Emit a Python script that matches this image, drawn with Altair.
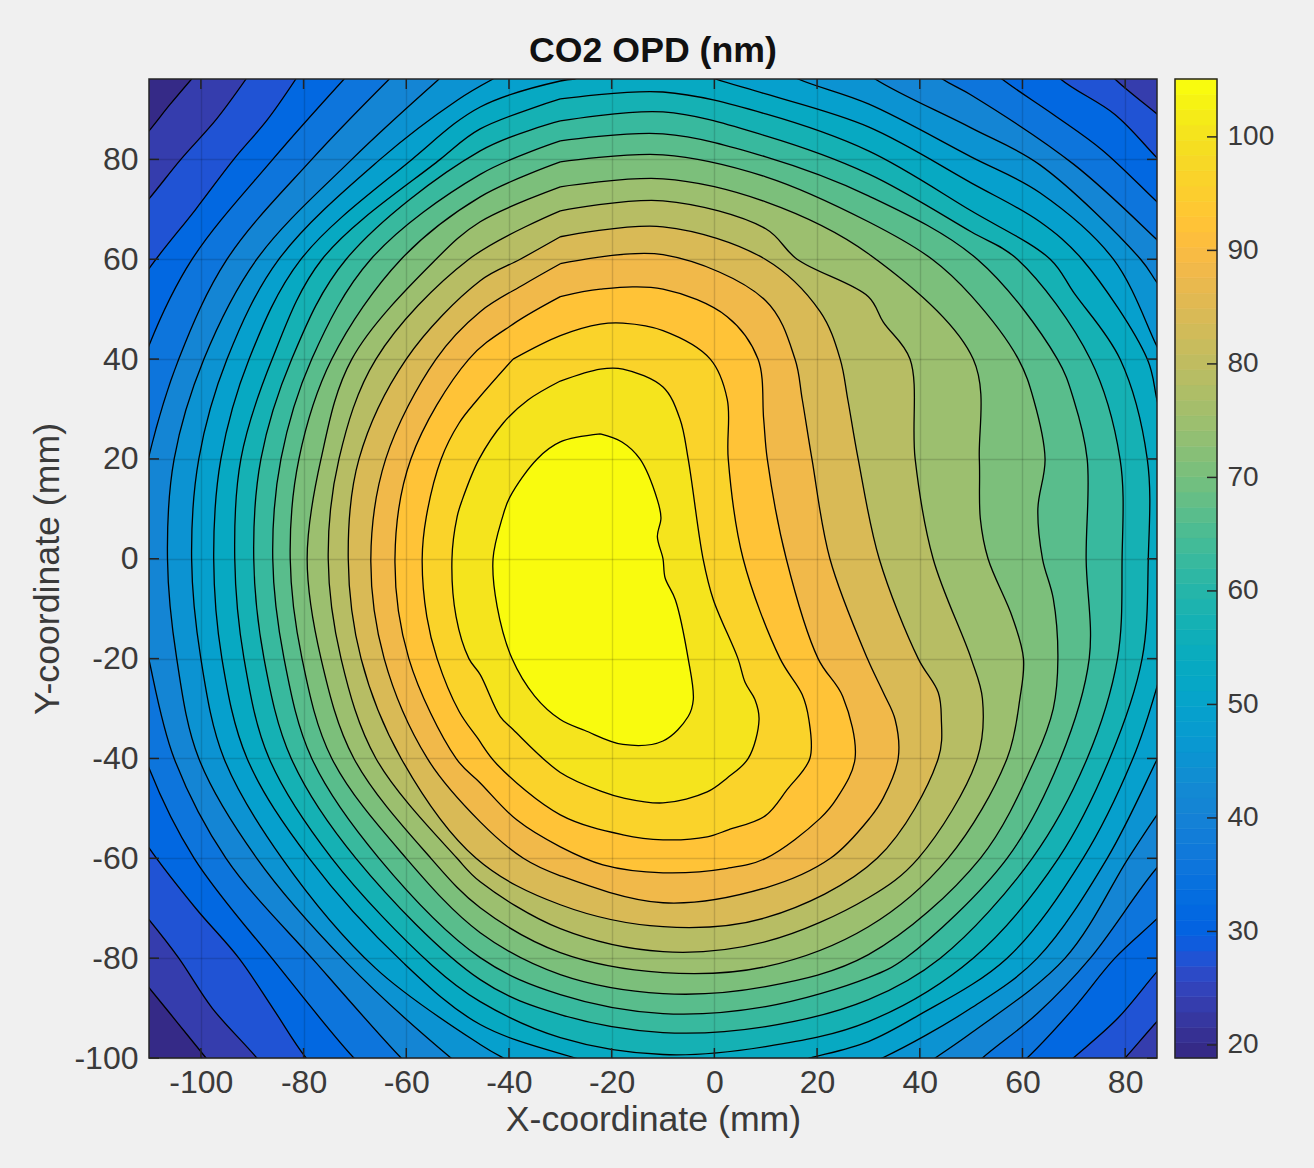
import altair as alt
import pandas as pd

TITLE = "CO2 OPD (nm)"
X_TICKS = [-100, -80, -60, -40, -20, 0, 20, 40, 60, 80]
Y_TICKS = [-100, -80, -60, -40, -20, 0, 20, 40, 60, 80]
CB_TICKS = [20, 30, 40, 50, 60, 70, 80, 90, 100]
X_DOM = [-110.1, 86.2]
Y_DOM = [-100, 96.1]
C_DOM = [18.85, 105.1]

LEVELS = [18.85, 23.17, 27.48, 31.80, 36.10, 40.42, 44.73, 49.04, 53.35, 57.67, 61.98,
          66.29, 70.60, 74.92, 79.23, 83.54, 87.85, 92.17, 96.48, 100.79, 105.1]

PARULA = [
 (0.2081,0.1663,0.5292),(0.2116,0.1898,0.5777),(0.2123,0.2138,0.6270),(0.2081,0.2386,0.6771),
 (0.1959,0.2645,0.7279),(0.1707,0.2919,0.7792),(0.1253,0.3242,0.8303),(0.0591,0.3598,0.8683),
 (0.0117,0.3875,0.8820),(0.0060,0.4086,0.8828),(0.0165,0.4266,0.8786),(0.0329,0.4430,0.8720),
 (0.0498,0.4586,0.8641),(0.0629,0.4737,0.8554),(0.0723,0.4887,0.8467),(0.0779,0.5040,0.8384),
 (0.0793,0.5200,0.8312),(0.0749,0.5375,0.8263),(0.0641,0.5570,0.8240),(0.0488,0.5772,0.8228),
 (0.0343,0.5966,0.8199),(0.0265,0.6137,0.8135),(0.0239,0.6287,0.8038),(0.0231,0.6418,0.7913),
 (0.0228,0.6535,0.7768),(0.0267,0.6642,0.7607),(0.0384,0.6743,0.7436),(0.0590,0.6838,0.7254),
 (0.0843,0.6928,0.7062),(0.1133,0.7015,0.6859),(0.1453,0.7098,0.6646),(0.1801,0.7177,0.6424),
 (0.2178,0.7250,0.6193),(0.2586,0.7317,0.5954),(0.3022,0.7376,0.5712),(0.3482,0.7424,0.5473),
 (0.3953,0.7459,0.5244),(0.4420,0.7481,0.5033),(0.4871,0.7491,0.4840),(0.5300,0.7491,0.4661),
 (0.5709,0.7485,0.4494),(0.6099,0.7473,0.4337),(0.6473,0.7456,0.4188),(0.6834,0.7435,0.4044),
 (0.7184,0.7411,0.3905),(0.7525,0.7384,0.3768),(0.7858,0.7356,0.3633),(0.8185,0.7327,0.3498),
 (0.8507,0.7299,0.3360),(0.8824,0.7274,0.3217),(0.9139,0.7258,0.3063),(0.9450,0.7261,0.2886),
 (0.9739,0.7314,0.2666),(0.9938,0.7455,0.2403),(0.9990,0.7653,0.2164),(0.9955,0.7861,0.1967),
 (0.9880,0.8066,0.1794),(0.9789,0.8271,0.1633),(0.9697,0.8481,0.1475),(0.9626,0.8705,0.1309),
 (0.9589,0.8949,0.1132),(0.9598,0.9218,0.0948),(0.9661,0.9514,0.0755),(0.9763,0.9831,0.0538)]
PALETTE = ["#%02x%02x%02x" % tuple(round(c * 255) for c in p) for p in PARULA]

L01 = [(-101.8,96.1),(-94,106),(120,120),(120,-120),(-92,-109),(-99,-100),(-104.5,-93),(-110.1,-85.9),(-118,-76),(-118,76),(-110.1,85.7),(-106,91)]
L02 = [(-91.2,96.1),(-85,105),(70,105),(78,96.1),(86.2,89.1),(94,82),(94,-84),(86.2,-92.7),(80,-100),(73,-108),(-83,-108),(-89.1,-100),(-97.8,-90),(-104.3,-80),(-110.1,-72.3),(-117,-64),(-117,64),(-110.1,72.1),(-103.9,80),(-97,88)]
L03 = [(-81.5,96.1),(-76,104),(60,104),(67.4,96.1),(78,89),(86.2,80.3),(93,73),(93,-75),(86.2,-82.7),(78.6,-92),(69.9,-100),(62,-107),(-73,-107),(-79.5,-100),(-86,-90),(-92.6,-80),(-101,-70),(-110.1,-57.9),(-115,-50),(-115,50),(-110.1,58.1),(-101,70),(-93.6,80),(-87,88)]
L04 = [(-72.1,96.1),(-66,103),(48,103),(56,96.1),(66,89),(75.5,81.9),(86.2,71.5),(93,65),(93,-65),(86.2,-72.1),(78,-80),(70,-90),(60.9,-100),(54,-106),(-64,-106),(-70.2,-100),(-85,-81.5),(-101.3,-60),(-110.1,-41.9),(-113,-32),(-113,33),(-110.1,42.7),(-101.7,60),(-86,80)]
L05 = [(-63.3,96.1),(-57,102),(37,102),(44.4,96.1),(50,92.9),(70,79),(86.2,63.9),(93,57),(93,-55),(86.2,-61.9),(73.2,-80),(63,-91),(52.2,-100),(46,-106),(-55,-106),(-61,-100),(-77.5,-81),(-95.1,-60),(-105.2,-40),(-110.1,-20.2),(-112,-10),(-112,10),(-110.1,20.6),(-104.3,40),(-94.9,60),(-78.4,80)]
L06 = [(-53.6,96.1),(-47,102),(24,102),(31.3,96.1),(50,86.3),(63.4,78.9),(83,60),(86.2,55.3),(92,47),(92,-43),(86.2,-51.3),(80.6,-60),(68.3,-80),(50,-95),(43,-100),(36,-105),(-45,-105),(-51.3,-100),(-71.5,-81),(-89.1,-60),(-100.4,-40),(-104.7,-20),(-106.5,0),(-105.2,20),(-99.4,40),(-89.1,60),(-70.6,80)]
L07 = [(-43.1,96.1),(-37,100),(9,100),(16.3,96.1),(30,91.1),(50,80.5),(63.4,73.3),(77.7,60),(86.2,42.5),(90,34),(90,-32),(86.2,-40.2),(76.5,-60),(62.9,-80),(50,-90),(32.7,-100),(25,-103),(-35,-103),(-41.1,-100),(-45.6,-97.3),(-66,-82),(-84.2,-60),(-95.5,-40),(-100,-20),(-101.8,0),(-100.4,20),(-94.9,40),(-84.8,60),(-65.1,80),(-50,91.9)]
L08 = [(-27.1,96.1),(-20,99),(-7,99),(0.2,96.1),(10,93.1),(30,86.5),(50,75.3),(63.4,67.5),(71.6,60),(84.3,40),(86.2,31.8),(88,24),(88,-18),(86.2,-25.6),(81.5,-40),(71.8,-60),(57,-80),(39.5,-91.6),(30,-96.7),(18.7,-100),(11,-102),(-20,-102),(-27.1,-100),(-45.6,-93.3),(-60.5,-81),(-78.9,-60),(-91,-40),(-95.9,-20),(-97.5,0),(-96.1,20),(-90.6,40),(-80.5,60),(-58.9,80),(-45.6,90.5),(-30,95.7)]
L09 = [(-30,92.1),(-10,93.5),(10,89.1),(30,81.7),(50,69.7),(65.4,60),(70,53.3),(79,40),(84.3,20),(84.5,0),(83.3,-20),(77,-40),(67,-60),(50.4,-80),(30,-92.7),(10,-97.7),(-10,-99.3),(-30,-95.9),(-45.6,-88.7),(-55,-81.4),(-74.5,-60),(-86.7,-40),(-91.6,-20),(-93.4,0),(-92.2,20),(-86.1,40),(-76.4,60),(-53.4,80),(-45.6,86.1)]
L10 = [(-30,87.7),(-10,89.5),(10,84.7),(30,77.1),(50,65.5),(59,60),(73.2,40),(79,20),(79.4,0),(78.5,-20),(72.6,-40),(61.9,-60),(44,-80),(30,-88.3),(10,-93.7),(-10,-94.9),(-30,-91.3),(-45.6,-84.3),(-69.8,-60),(-82.4,-40),(-87.7,-20),(-89.7,0),(-88.3,20),(-82.3,40),(-71.7,60),(-45.6,81.7)]
L11 = [(-30,83.7),(-10,85.1),(10,80.5),(30,72.7),(51.2,60),(66.8,40),(70,31.8),(72.6,20),(72.4,0),(73,-20),(67.4,-40),(57,-60),(37.2,-80),(30,-83.9),(10,-89.7),(-10,-91.1),(-30,-87.3),(-45.6,-79.9),(-65.3,-60),(-78.4,-40),(-83.8,-20),(-86,0),(-84.4,20),(-78.4,40),(-66.9,60),(-45.6,77)]
L12 = [(-30,79.5),(-10,80.9),(10,76.5),(30,67.5),(42.4,60),(50,52.7),(59.2,40),(62.2,31.8),(64.4,20),(63,10),(63.9,0),(66,-8),(66.9,-20),(66,-30),(62.5,-40),(51.8,-60),(30,-79.3),(10,-85.7),(-10,-87.1),(-30,-83.3),(-45.6,-74.9),(-60,-60),(-74.5,-40),(-80.3,-20),(-82.6,0),(-80.9,20),(-74.5,40),(-61,60),(-45.6,72.5)]
L13 = [(-30,74.5),(-10,76.1),(10,71.5),(30,61.1),(50.4,40),(51.6,20),(51.8,8),(53.3,0),(58,-11.6),(60.2,-20),(59.5,-28),(57,-40),(45.5,-60),(30,-73.7),(10,-81.7),(-10,-82.9),(-30,-78.9),(-45.6,-69.9),(-55.2,-60),(-70.2,-40),(-76.6,-20),(-79.3,0),(-76.6,20),(-70.6,40),(-54.2,60),(-45.6,67.5)]
L14 = [(-30,69.7),(-10,71.7),(10,66.1),(16.1,60),(30,52.5),(32.9,47.4),(38.1,40),(39.1,20),(42.6,0),(50,-20),(52.2,-28),(51.2,-40),(39.7,-60),(30,-67.9),(10,-76.7),(-10,-78.7),(-30,-74.1),(-45.6,-64.7),(-50.1,-60),(-65.9,-40),(-72.7,-20),(-75.2,0),(-73.1,20),(-65.9,40),(-47.8,60)]
L15 = [(-30,64.5),(-10,66.5),(9.9,60),(20.6,49.5),(24.5,40),(26,31.8),(28,20),(32.1,0),(39.7,-20),(43.6,-26.8),(44.2,-32),(43.6,-40),(31.7,-60),(10,-71.9),(-10,-73.7),(-30,-69.3),(-46.4,-60),(-61,-40),(-68.8,-20),(-71.3,0),(-69.2,20),(-60,40),(-45.6,55.7),(-37.8,60)]
L16 = [(-30,59.1),(-10,60.9),(10,51.7),(15.7,40),(17.1,32),(19,20),(22.5,0),(29.8,-20),(32.9,-26.8),(35.2,-32.2),(35.8,-40),(32.9,-47.9),(30.3,-51.9),(22.6,-60),(10,-65.9),(-10,-68.9),(-30,-63.5),(-37.2,-60),(-45.6,-52.7),(-55.9,-40),(-64.3,-20),(-66.9,0),(-64,20),(-54.2,40),(-45.6,49.5),(-37,55)]
L17 = [(-30,52.5),(-22.2,54),(-10,54),(2.5,48.5),(8.5,40),(9.6,28),(10.3,20),(14,0),(20.2,-20),(25,-27.6),(27.4,-40),(23.9,-47.9),(20.6,-52),(10,-60),(2.5,-62),(-10,-62.9),(-21.7,-61.3),(-30,-57.7),(-38.5,-52.3),(-45.6,-44.9),(-50.3,-40),(-59.5,-20),(-62.2,0),(-59.1,20),(-47.8,40),(-39.2,47)]
L18 = [(-39.2,40),(-30,44.7),(-22.2,47),(-17.8,47.2),(-10,45.7),(-0.8,40),(2.5,32),(2.7,20),(5.6,0),(12.8,-20),(17.1,-27.2),(18.4,-32.2),(18.6,-40),(14.2,-46.2),(9.9,-51.5),(2.7,-54.3),(-1.4,-55.7),(-10,-56.3),(-17.8,-55.3),(-30,-51.3),(-42.3,-41.2),(-46.2,-35.8),(-49.7,-30.6),(-54,-20),(-56,-11.6),(-56.9,0),(-56.1,8.4),(-53.2,20),(-49.7,27.2),(-46.2,31.8)]
L19 = [(-30,35.6),(-22.2,38),(-17.8,38),(-10,34.4),(-6.7,28),(-5.1,20),(-2.2,0),(-0.2,-8.2),(4.6,-20),(6,-24.8),(7.9,-28.2),(8.7,-32.2),(6.6,-40),(2.5,-43.9),(-1.4,-46.7),(-10,-48.9),(-17.8,-47.9),(-21.7,-46.7),(-30,-42.8),(-39.2,-34.2),(-41.7,-31.6),(-45.6,-23.2),(-47.8,-20),(-50.3,-11.6),(-51.1,0),(-50.1,8.4),(-49.1,11.8),(-45.8,20),(-41.1,27.2),(-36.3,31.8)]
L20 = [(-22.2,25),(-18,23.4),(-14.5,20),(-11.1,11.8),(-10.4,8.2),(-11.1,4.4),(-10,0),(-9.6,-3.8),(-7.6,-8.2),(-5.1,-20),(-4.1,-28.2),(-5.1,-31.6),(-10,-36.5),(-17.8,-37.2),(-25.2,-34.4),(-30,-32.2),(-35,-27.5),(-39.4,-20),(-42.3,-9.6),(-43.1,0),(-41.3,8.2),(-39.8,12.4),(-34.5,20),(-30,23.4)]
CONTOURS = [L01, L02, L03, L04, L05, L06, L07, L08, L09, L10, L11, L12, L13, L14, L15, L16, L17, L18, L19, L20]

rows = []
for i, poly in enumerate(CONTOURS, start=1):
    for j, (x, y) in enumerate(list(poly) + [poly[0]]):
        rows.append({"x": x, "y": y, "seq": j, "level": LEVELS[i]})
contours = pd.DataFrame(rows)

W, H = 1008, 979
CB_W = 42
INK = "#262626"
TEXT = "#3a3a3a"
FONT = "Liberation Sans"
HYPHEN_LABEL = "'' + datum.value"

x_scale = alt.Scale(domain=X_DOM, nice=False, zero=False)
y_scale = alt.Scale(domain=Y_DOM, nice=False, zero=False)
fill_scale = alt.Scale(type="quantize", domain=C_DOM, range=PALETTE)

back = alt.Chart(pd.DataFrame({"x": [X_DOM[0]], "x2": [X_DOM[1]], "y": [Y_DOM[0]], "y2": [Y_DOM[1]], "level": [LEVELS[0]]})).mark_rect().encode(
    x=alt.X("x:Q", scale=x_scale, title="X-coordinate (mm)",
            axis=alt.Axis(values=X_TICKS, domain=False, ticks=False, grid=True, gridColor="#000000", gridOpacity=0.14,
                          gridWidth=1.4, labelFont=FONT, labelFontSize=32, labelColor=TEXT, labelPadding=9,
                          labelFlush=False, labelOverlap=False, titleFont=FONT, titleFontSize=35.7, titleFontWeight="normal",
                          titleColor=TEXT, titlePadding=4, zindex=1, labelExpr=HYPHEN_LABEL)),
    x2="x2:Q",
    y=alt.Y("y:Q", scale=y_scale, title="Y-coordinate (mm)",
            axis=alt.Axis(values=Y_TICKS, domain=False, ticks=False, grid=True, gridColor="#000000", gridOpacity=0.14,
                          gridWidth=1.4, labelFont=FONT, labelFontSize=32, labelColor=TEXT, labelPadding=11,
                          labelOverlap=False, labelFlush=False, titleFont=FONT, titleFontSize=35.7, titleFontWeight="normal",
                          titleColor=TEXT, titlePadding=8, zindex=1, labelExpr=HYPHEN_LABEL)),
    y2="y2:Q",
    fill=alt.Fill("level:Q", scale=fill_scale, legend=None),
)

lines = alt.Chart(contours).mark_line(clip=True, stroke="#000000", strokeWidth=1.3, strokeJoin="round", interpolate="catmull-rom").encode(
    x=alt.X("x:Q", scale=x_scale),
    y=alt.Y("y:Q", scale=y_scale),
    order="seq:Q",
    detail="level:Q",
    fill=alt.Fill("level:Q", scale=fill_scale, legend=None),
)

xt = pd.DataFrame({"t": X_TICKS})
yt = pd.DataFrame({"t": Y_TICKS})
tick_style = dict(color=INK, strokeWidth=1.5)
ticks = [
    alt.Chart(xt).mark_rule(**tick_style).encode(x=alt.X("t:Q", scale=x_scale), y=alt.value(H), y2=alt.value(H - 10)),
    alt.Chart(xt).mark_rule(**tick_style).encode(x=alt.X("t:Q", scale=x_scale), y=alt.value(0), y2=alt.value(10)),
    alt.Chart(yt).mark_rule(**tick_style).encode(y=alt.Y("t:Q", scale=y_scale), x=alt.value(0), x2=alt.value(10)),
    alt.Chart(yt).mark_rule(**tick_style).encode(y=alt.Y("t:Q", scale=y_scale), x=alt.value(W), x2=alt.value(W - 10)),
]
one = pd.DataFrame({"a": [0]})
frame = alt.Chart(one).mark_rect(filled=False, stroke=INK, strokeWidth=1.5).encode(
    x=alt.value(0), x2=alt.value(W), y=alt.value(0), y2=alt.value(H))

main = alt.layer(back, lines, *ticks, frame).properties(
    width=W, height=H,
    title=alt.TitleParams(TITLE, font=FONT, fontSize=35.7, fontWeight="bold", color="#111111", offset=9),
)

n = len(PALETTE)
span = C_DOM[1] - C_DOM[0]
bar = pd.DataFrame({
    "lo": [C_DOM[0] + span * i / n for i in range(n)],
    "hi": [C_DOM[0] + span * (i + 1) / n for i in range(n)],
    "c": PALETTE,
})
cb_scale = alt.Scale(domain=C_DOM, nice=False, zero=False)
cb_rects = alt.Chart(bar).mark_rect(strokeWidth=0.6).encode(
    x=alt.value(0), x2=alt.value(CB_W),
    y=alt.Y("lo:Q", scale=cb_scale, title=None,
            axis=alt.Axis(orient="right", values=CB_TICKS, domain=False, ticks=False, grid=False, labelFont=FONT,
                          labelFontSize=28, labelColor=TEXT, labelPadding=10, labelOverlap=False, labelFlush=False, format="d")),
    y2="hi:Q",
    fill=alt.Fill("c:N", scale=None),
    stroke=alt.Stroke("c:N", scale=None),
)
cb_ticks = alt.Chart(pd.DataFrame({"t": CB_TICKS})).mark_rule(**tick_style).encode(
    y=alt.Y("t:Q", scale=cb_scale), x=alt.value(CB_W), x2=alt.value(CB_W - 10))
cb_frame = alt.Chart(one).mark_rect(filled=False, stroke=INK, strokeWidth=1.5).encode(
    x=alt.value(0), x2=alt.value(CB_W), y=alt.value(0), y2=alt.value(H))
colorbar = alt.layer(cb_rects, cb_ticks, cb_frame).properties(width=CB_W, height=H)

chart = alt.hconcat(main, colorbar, spacing=16, background="#f0f0f0",
                    padding={"left": 21, "top": 24, "right": 10, "bottom": 5}
                    ).resolve_scale(fill="independent", stroke="independent", y="independent", x="independent").configure_view(stroke=None)

chart.save("out.html", embed_options={"renderer": "svg", "actions": False, "defaultStyle": "body{background:#f0f0f0}"})
